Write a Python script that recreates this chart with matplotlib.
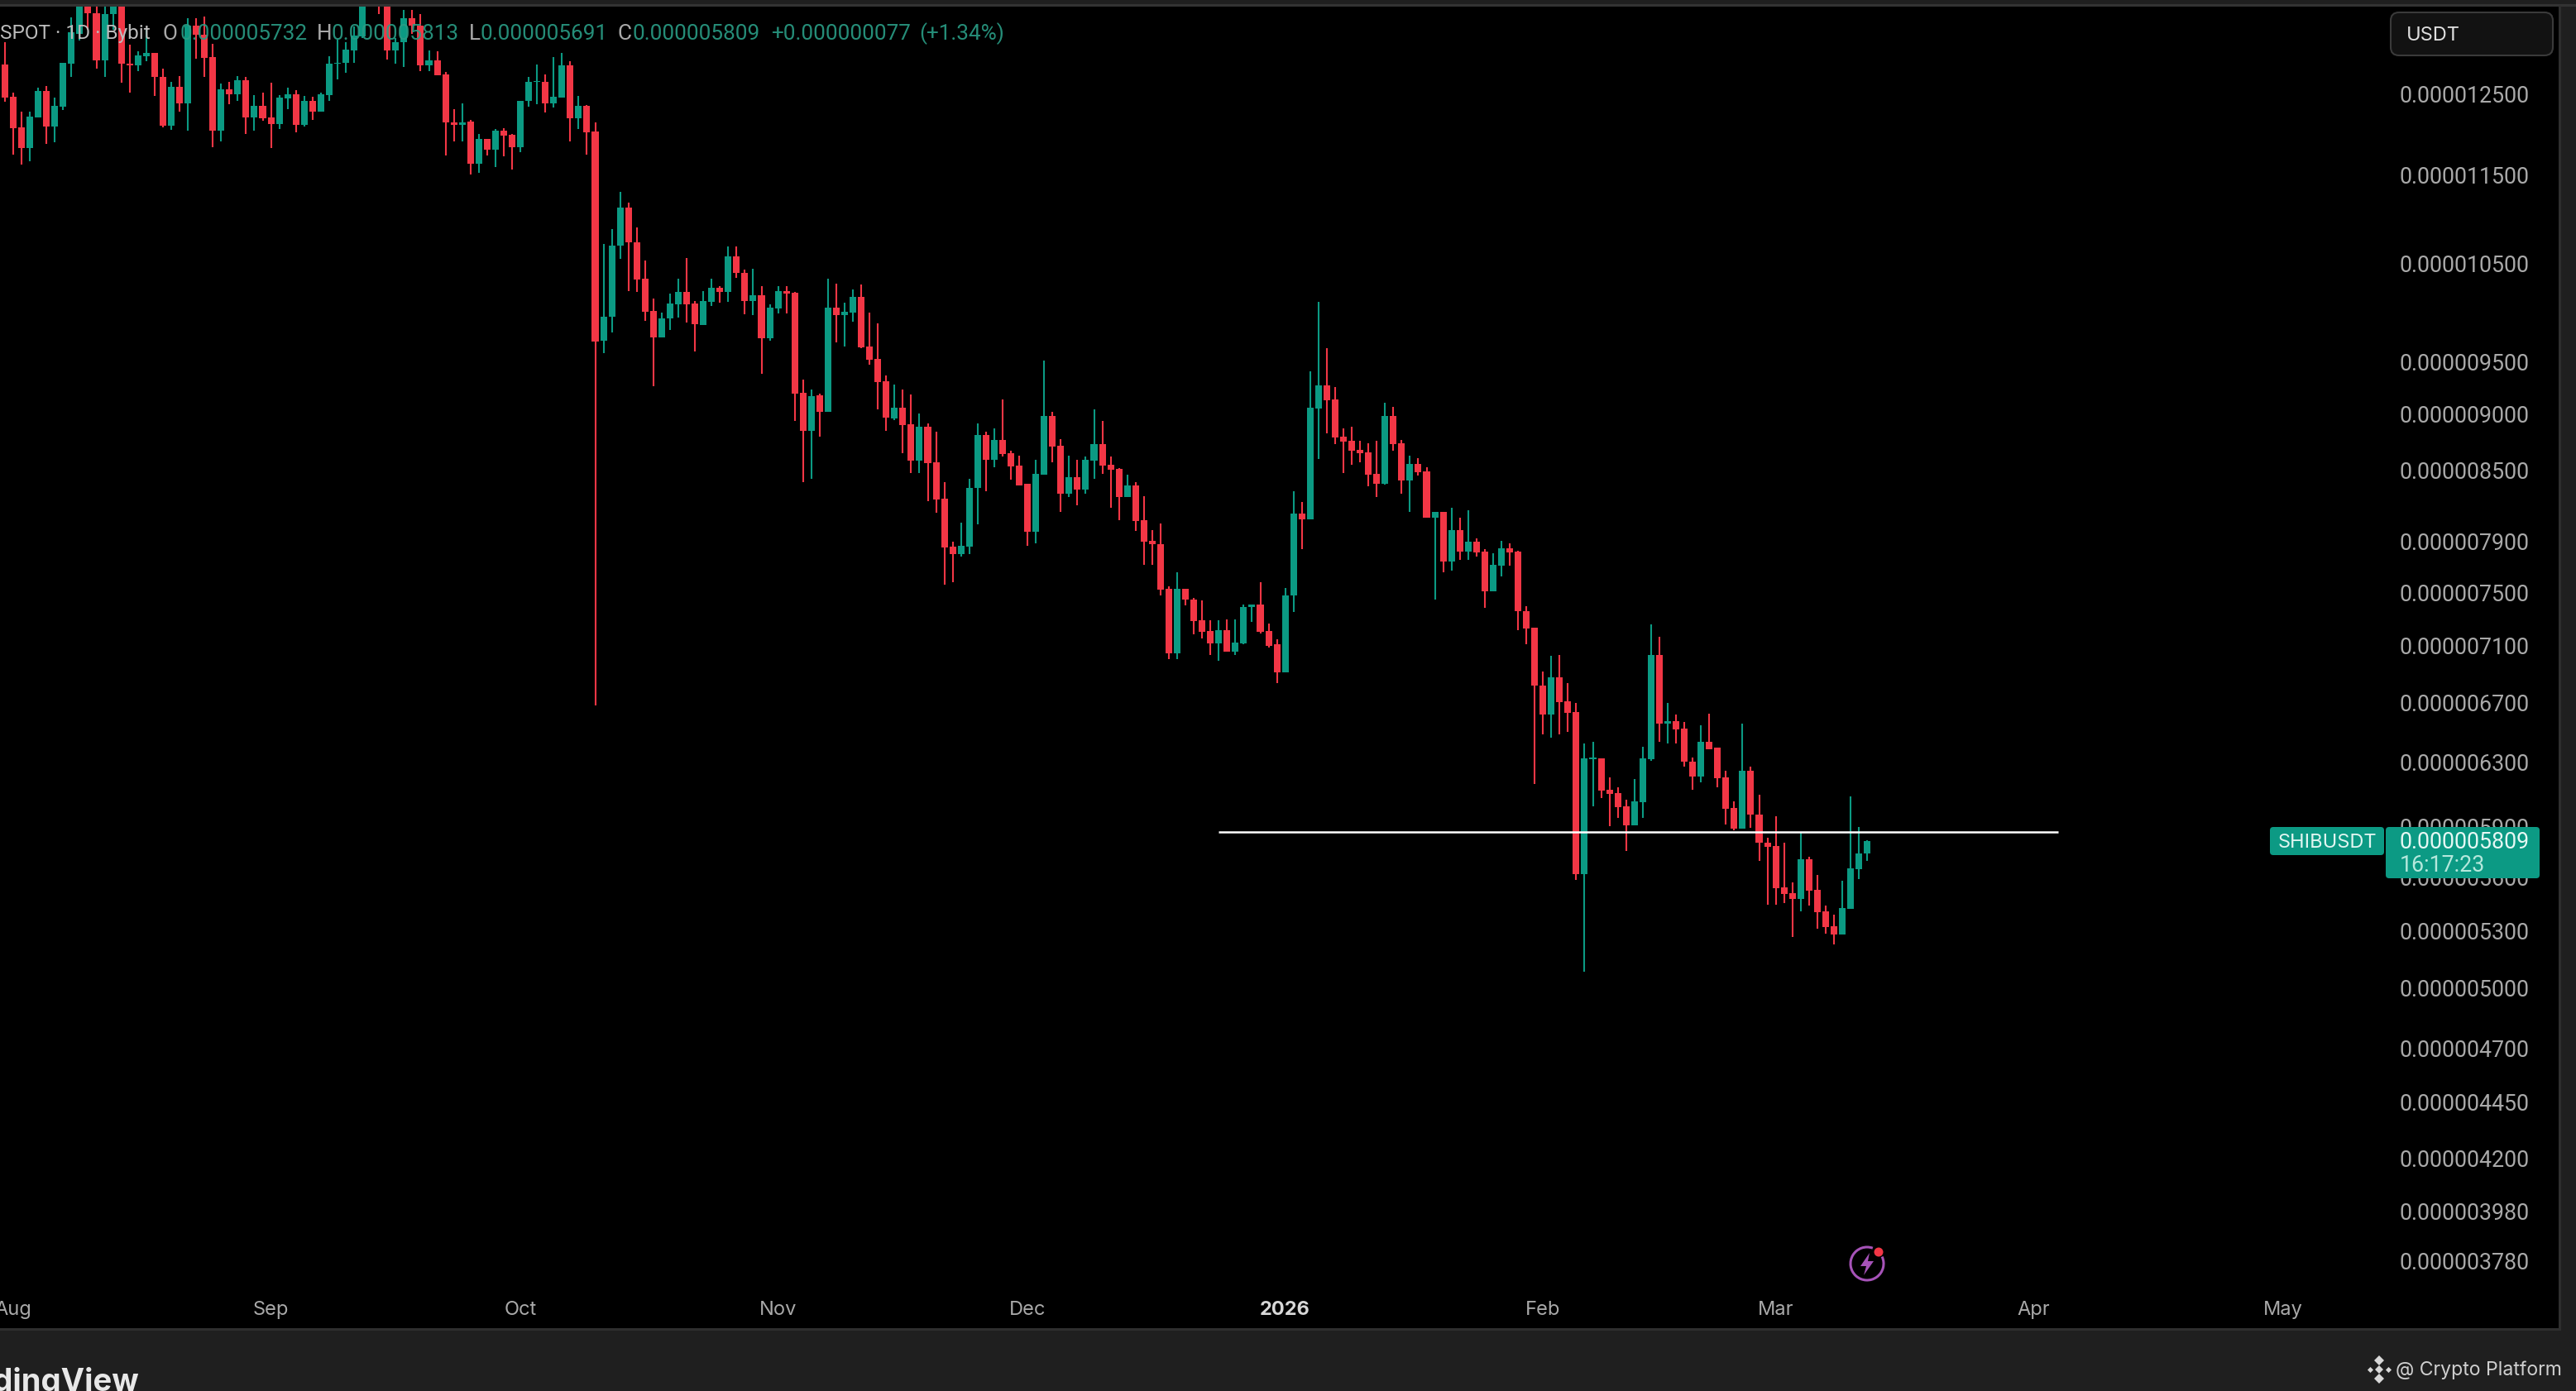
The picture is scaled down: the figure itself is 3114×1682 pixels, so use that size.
## SHIBUSDT daily candles, dark TradingView style
import numpy as np
import pandas as pd
import matplotlib
matplotlib.use('Agg')
import matplotlib.pyplot as plt
import matplotlib.dates as mdates
from matplotlib.lines import Line2D
from matplotlib.patches import FancyBboxPatch, Rectangle, Circle, Arc, Polygon
from matplotlib.transforms import IdentityTransform

plt.rcParams['font.family'] = ['Inter', 'DejaVu Sans']

## prices in units of 1e-9 USDT
first_day = '2025-07-31'
opens = [12864,12449,12064,11813,12190,12522,12074,12323,12881,13280,
         13800,13565,12922,13547,13850,12881,12856,12977,13021,12710,
         12081,12574,12365,13394,13261,12966,12024,12540,12480,12667,
         12184,12330,12184,12107,12428,12477,12094,12393,12260,12470,
         12874,12886,13057,13242,13900,14100,13800,13057,13160,13497,
         13394,12856,12922,12739,12131,12094,12138,11622,11920,11793,
         12027,11973,11823,12393,12637,12645,12365,12441,12856,12177,
         12337,12014,9693,9934,10691,11117,10729,10329,9997,9730,
         9917,10065,10193,10069,9855,10090,10235,10193,10575,10393,
         10100,10158,9717,10020,10200,10186,9191,8842,9165,9012,
         10031,9955,9979,10141,9640,9514,9302,8957,9050,8902,
         8576,8881,8561,8245,7853,7794,7853,8337,8805,8582,
         8760,8640,8533,8372,7970,8453,8975,8707,8289,8433,
         8325,8576,8722,8541,8503,8261,8360,8068,7898,7871,
         7521,7038,7521,7438,7280,7203,7112,7208,7052,7111,
         7378,7401,7203,7103,6905,7467,8122,8076,9045,9263,
         9131,8790,8750,8670,8645,8461,8375,8976,8730,8404,
         8545,8480,8085,8136,7735,7985,7811,7893,7811,7502,
         7701,7840,7815,7351,7228,6812,6613,6870,6702,6629,
         5616,6318,6322,6121,6101,6019,5902,6045,6315,7028,
         6548,6566,6517,6301,6205,6427,6390,6200,6008,5884,
         6241,5968,5799,5779,5540,5507,5471,5701,5526,5406,
         5324,5279,5418,5643,5732]
highs = [13166,12498,12260,12260,12561,12585,12438,12886,13508,13950,
         13950,13700,13700,13950,13950,13130,13039,13337,13021,12812,
         12637,12717,13497,13490,13520,13141,12619,12645,12717,12710,
         12470,12498,12627,12470,12567,12532,12462,12446,12504,12973,
         13193,13166,13376,14000,14200,14250,13950,13223,13604,13604,
         13547,13050,13039,12765,12289,12365,12156,11980,11920,12047,
         12054,11986,12400,12710,12864,12739,12966,13021,12911,12462,
         12340,12131,10703,10872,11294,11168,10891,10525,10124,9979,
         10179,10336,10553,10100,10200,10336,10257,10683,10683,10431,
         10438,10250,10065,10257,10250,10193,9318,9223,9185,10336,
         10280,10083,10221,10268,9979,9869,9356,9270,9223,9177,
         9003,8909,8836,8386,7893,8049,8418,8909,8836,8863,
         9127,8660,8620,8372,8582,9501,9018,8766,8620,8582,
         8611,9035,8933,8611,8512,8453,8386,8267,7984,8042,
         7541,7651,7521,7449,7431,7284,7284,7288,7288,7403,
         7403,7571,7258,7143,7526,8311,8218,9396,10091,9621,
         9245,8864,8879,8750,8730,8752,9098,9058,8758,8617,
         8597,8514,8136,8138,8170,8085,8149,7917,7833,7800,
         7899,7877,7822,7389,7228,6912,7022,7026,6828,6692,
         6418,6427,6322,6201,6135,6059,6188,6395,7252,7161,
         6692,6613,6562,6329,6539,6618,6390,6241,6050,6552,
         6267,6091,5828,5957,5796,5566,5864,5717,5610,5434,
         5388,5577,6081,5892,5813]
lows = [12386,11736,11612,11652,12190,11863,11880,12280,12703,13185,
        13337,12812,12703,13337,12630,12504,12776,12911,12456,12064,
        12031,12260,12021,12947,12710,11820,11896,12358,12400,11980,
        12021,12149,11813,12047,12296,12004,12074,12156,12260,12400,
        12673,12754,12886,13223,13800,13550,12933,12874,12838,13280,
        12783,12776,12728,11719,11896,11896,11499,11516,11719,11586,
        11712,11554,11763,12319,12351,12247,12309,12435,11896,12047,
        11729,6674,9573,9779,10546,10203,10193,9893,9254,9730,
        9806,9927,9876,9591,9855,10048,10083,10090,10340,9962,
        9955,9375,9700,9969,9969,8933,8386,8418,8790,9012,
        9680,9640,9883,9624,9457,9038,8842,8942,8640,8468,
        8468,8228,8132,7554,7572,7775,7794,8031,8313,8518,
        8611,8410,8360,7861,7880,8453,8561,8138,8261,8194,
        8292,8418,8462,8171,8065,8261,7981,7708,7708,7472,
        6998,6998,7392,7178,7149,7028,6984,7052,7026,7105,
        7268,7181,7082,6828,6905,7345,7833,8076,8590,8819,
        8722,8470,8538,8561,8354,8259,8370,8660,8291,8138,
        8442,8085,7439,7651,7662,7746,7746,7775,7372,7502,
        7618,7701,7208,7103,6156,6477,6459,6477,6492,5582,
        5081,6019,6070,5897,5948,5750,5902,5948,6303,6427,
        6418,6418,6267,6121,6166,6379,6135,5906,5873,5884,
        5886,5693,5441,5441,5449,5265,5403,5437,5310,5283,
        5223,5279,5418,5587,5691]
closes = [12441,12057,11813,12194,12522,12074,12330,12886,13299,13800,
          13565,12922,13547,13850,12881,12856,12984,13017,12703,12081,
          12574,12365,13394,13261,12958,12024,12540,12480,12667,12190,
          12330,12177,12107,12435,12477,12094,12400,12260,12480,12874,
          12892,13064,13254,13900,14100,13800,13057,13160,13497,13394,
          12856,12922,12728,12124,12094,12131,11622,11920,11793,12027,
          11966,11823,12400,12637,12656,12365,12446,12856,12177,12330,
          12004,9689,9937,10691,11117,10729,10322,9989,9730,9921,
          10069,10193,10062,9858,10100,10235,10193,10575,10390,10100,
          10158,9723,10031,10200,10176,9185,8842,9162,9012,10031,
          9955,9986,10141,9630,9511,9295,8963,9050,8893,8576,
          8881,8556,8242,7847,7794,7861,8342,8805,8582,8760,
          8634,8526,8360,7970,8462,8975,8701,8289,8433,8325,
          8585,8722,8533,8497,8261,8360,8062,7893,7869,7515,
          7038,7521,7436,7277,7198,7112,7210,7052,7117,7382,
          7401,7193,7092,6905,7471,8122,8076,9053,9263,9123,
          8782,8745,8660,8640,8454,8375,8976,8724,8404,8545,
          8475,8085,8136,7735,7985,7811,7893,7807,7502,7708,
          7840,7807,7347,7222,6808,6613,6870,6696,6625,5616,
          6322,6326,6118,6097,6014,5902,6048,6322,7028,6548,
          6566,6511,6297,6205,6427,6382,6196,6005,5881,6241,
          5965,5796,5775,5535,5502,5471,5701,5522,5400,5319,
          5279,5423,5647,5733,5809]

price_ticks = [12500, 11500, 10500, 9500, 9000, 8500, 7900, 7500, 7100, 6700,
               6300, 5900, 5600, 5300, 5000, 4700, 4450, 4200, 3980, 3780]
month_ticks = ['2025-08-01', '2025-09-01', '2025-10-01', '2025-11-01', '2025-12-01',
               '2026-01-01', '2026-02-01', '2026-03-01', '2026-04-01', '2026-05-01']
month_labels = ['Aug', 'Sep', 'Oct', 'Nov', 'Dec', '2026', 'Feb', 'Mar', 'Apr', 'May']
hline_price = 5860
hline_days = ['2025-12-24', '2026-04-04']

W, H = 3114, 1683
GREEN = '#0b9a83'
RED = '#F23645'
PANEL = '#1f1f1f'
NUM_FONT = ['Roboto', 'DejaVu Sans']  # Inter digits are not tabular

fig = plt.figure(figsize=(W/100, H/100), dpi=100, facecolor=PANEL)
ax = fig.add_axes([0, (H-1608)/H, 3094/W, 1600/H], facecolor='black')

x = mdates.date2num(pd.date_range(first_day, periods=len(closes)))
o, h, l, c = map(np.array, (opens, highs, lows, closes))
up = c >= o
colors = np.where(up, GREEN, RED)

ax.vlines(x, l, h, colors=colors, lw=1.5, zorder=2)
ax.bar(x, np.abs(c-o), bottom=np.minimum(o, c), width=0.8, color=colors, linewidth=0, zorder=3)
ax.plot(mdates.date2num(pd.to_datetime(hline_days)), [hline_price]*2, color='white', lw=1.8, zorder=4, solid_capstyle='butt')

ax.set_yscale('log')
aug1 = mdates.date2num(pd.Timestamp('2025-08-01'))
ax.set_xlim(aug1 - 16/10.05, aug1 + (3094-16)/10.05)
ax.set_ylim(3523, 13665)

ax.set_yticks(price_ticks)
ax.set_yticklabels(['0.%09d' % p for p in price_ticks])
ax.yaxis.set_minor_locator(matplotlib.ticker.NullLocator())
ax.yaxis.tick_right()
ax.tick_params(axis='y', length=0, pad=-26, labelsize=19.3, labelcolor='#a9a9a9')
for lab in ax.get_yticklabels():
    lab.set_horizontalalignment('right')
    lab.set_family(NUM_FONT)

ax.set_xticks(mdates.date2num(pd.to_datetime(month_ticks)))
ax.set_xticklabels(month_labels)
ax.tick_params(axis='x', length=0, pad=-25, labelsize=17, labelcolor='#a9a9a9')
for lab in ax.get_xticklabels():
    if lab.get_text() == '2026':
        lab.set_fontweight('bold')
        lab.set_color('#d8d8d8')
for s in ax.spines.values():
    s.set_visible(False)

## everything below is placed in pixels from the top left of the screenshot
def px_text(xp, yp, s, **kw):
    kw.setdefault('va', 'center')
    return fig.text(xp/W, 1-yp/H, s, **kw)

def px_box(x0, y0, x1, y1, fc, ec='none', r=6, z=20):
    b = FancyBboxPatch((x0+r, H-y1+r), x1-x0-2*r, y1-y0-2*r, boxstyle='round,pad=%d,rounding_size=%d' % (r, r),
                       fc=fc, ec=ec, lw=1.5, transform=IdentityTransform(), zorder=z)
    fig.add_artist(b)

## chrome around the pane
fig.add_artist(Rectangle((0, H-9), W, 3, fc='#333333', ec='none', transform=IdentityTransform(), zorder=1))
fig.add_artist(Rectangle((0, H-1610), 3094, 3, fc='#2e2e2e', ec='none', transform=IdentityTransform(), zorder=1))
fig.add_artist(Rectangle((3093, H-1610), 3, 1602, fc='#2e2e2e', ec='none', transform=IdentityTransform(), zorder=1))

## OHLC header
grey = '#bcbcbc'
val = '#2a9d86'
hsize = 18.8
px_text(182, 41, 'SPOT · 1D · Bybit', ha='right', color=grey, fontsize=17.6, family=NUM_FONT, zorder=15)
for xp, s, col in [(197, 'O', grey), (217, '0.000005732', val), (383, 'H', grey), (400, '0.000005813', val),
                   (567, 'L', grey), (580, '0.000005691', val), (746, 'C', grey), (764, '0.000005809', val),
                   (932, '+0.000000077', val), (1111, '(+1.34%)', val)]:
    px_text(xp, 41, s, ha='left', color=col, fontsize=hsize, family=NUM_FONT, alpha=0.9, zorder=15)

## currency box
px_box(2890, 16, 3086, 68, '#121212', ec='#3a3a3a', r=10)
px_text(2909, 43, 'USDT', ha='left', color='#dedede', fontsize=17, zorder=21)

## last price badges
px_box(2744, 1001, 2882, 1035, '#0c9a84', r=4)
px_box(2884, 1001, 3070, 1063, '#0c9a84', r=4)
px_text(2813, 1019, 'SHIBUSDT', ha='center', color='#dff5f0', fontsize=17, zorder=21)
px_text(2901, 1019, '0.000005809', ha='left', color='#e6f8f4', fontsize=19.3, family=NUM_FONT, zorder=21)
px_text(2901, 1047, '16:17:23', ha='left', color='#b5e8dc', fontsize=19.3, family=NUM_FONT, zorder=21)

## lightning marker
purple = '#a653b8'
fig.add_artist(Arc((2257, H-1529), 40, 40, theta1=70, theta2=25, ec=purple, lw=2.2, transform=IdentityTransform(), zorder=20))
fig.add_artist(Polygon([(2260, H-1516), (2249, H-1532), (2256, H-1532), (2253, H-1543), (2265, H-1526), (2258, H-1526)],
                       closed=True, fc=purple, ec='none', transform=IdentityTransform(), zorder=20))
fig.add_artist(Circle((2271, H-1515), 5.5, fc='#f23645', ec='none', transform=IdentityTransform(), zorder=21))

## footer
px_text(168, 1682, 'TradingView', ha='right', va='baseline', color='#e8e8e8', fontsize=27.5, fontweight='bold')
for dx, dy, ms in [(0, 0, 6.5), (-11, 0, 5), (11, 0, 5), (0, -11, 9), (0, 11, 9)]:
    fig.add_artist(Line2D([(2876+dx)/W], [1-(1657+dy)/H], marker='D', ms=ms*0.72, color='#d8d8d8', mew=0, ls='none', transform=fig.transFigure))
px_text(2896, 1657, '@ Crypto Platform', ha='left', color='#cfcfcf', fontsize=16.6)

fig.savefig('out.png', dpi=100, facecolor=fig.get_facecolor())
